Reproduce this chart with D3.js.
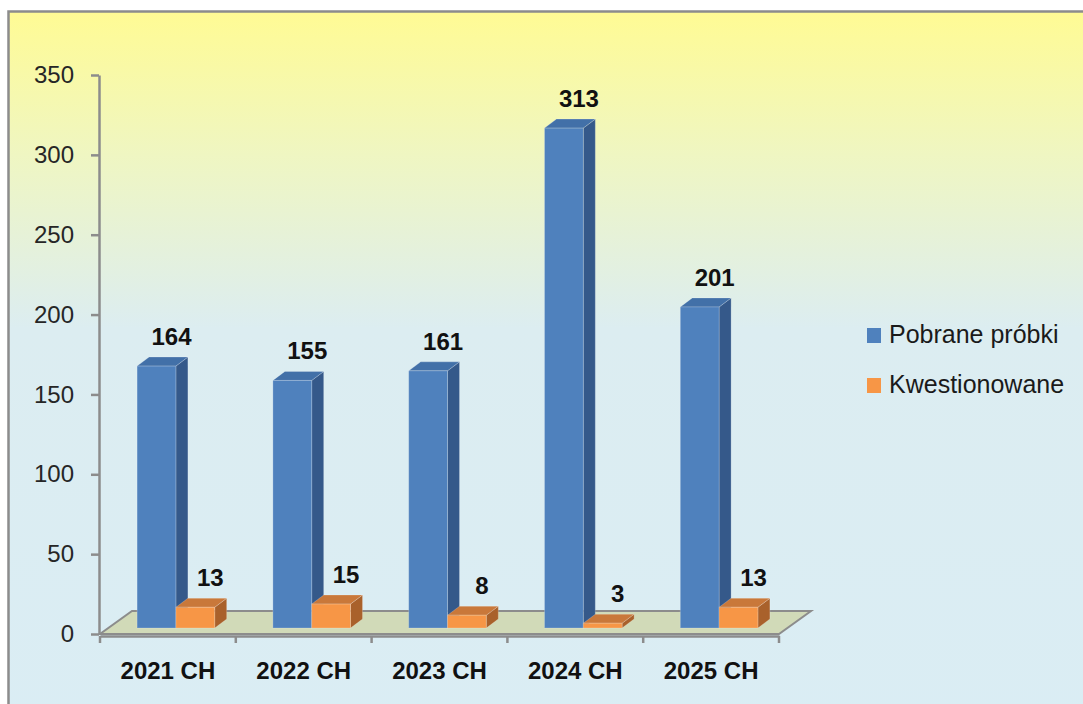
<!DOCTYPE html>
<html>
<head>
<meta charset="utf-8">
<script src="https://cdn.jsdelivr.net/npm/d3@7"></script>
<style>
  html, body { margin: 0; padding: 0; background: #fff; }
  svg { display: block; font-family: "Liberation Sans", Arial, sans-serif; }
</style>
</head>
<body>
<svg id="chart" width="1083" height="704"></svg>
<script>
// chart data
const categories = ["2021 CH", "2022 CH", "2023 CH", "2024 CH", "2025 CH"];
const seriesNames = ["Pobrane próbki", "Kwestionowane"];
const pobrane = [164, 155, 161, 313, 201];
const kwestionowane = [13, 15, 8, 3, 13];
const yTicks = [0, 50, 100, 150, 200, 250, 300, 350];

const seriesColors = {
  "Pobrane próbki": { front: "#4f81bd", top: "#4270a8", side: "#35598a" },
  "Kwestionowane": { front: "#f79646", top: "#c9783a", side: "#a9612b" }
};

const svg = d3.select("#chart");

// background gradient + frame
const defs = svg.append("defs");
const grad = defs.append("linearGradient")
  .attr("id", "bg").attr("x1", 0).attr("y1", 0).attr("x2", 0).attr("y2", 1);
grad.append("stop").attr("offset", "0%").attr("stop-color", "#fffb94");
grad.append("stop").attr("offset", "20%").attr("stop-color", "#eff6c2");
grad.append("stop").attr("offset", "44%").attr("stop-color", "#dcedf1");
grad.append("stop").attr("offset", "100%").attr("stop-color", "#daedf4");

svg.append("rect")
  .attr("x", 8.5).attr("y", 11.5)
  .attr("width", 1100).attr("height", 720)
  .attr("fill", "url(#bg)")
  .attr("stroke", "#8c8c8c").attr("stroke-width", 2.5);

// scales
const x = d3.scaleBand().domain(categories).range([100, 779]);
const sub = d3.scaleBand().domain(seriesNames).range([0, x.bandwidth()]).paddingOuter(0.75);
const y = d3.scaleLinear().domain([0, 350]).range([634, 75]);

// 3d offsets
const floorDepth = { dx: 32, dy: -23 };
const barShift = { dx: 8, dy: -6 };
const barDepth = { dx: 12, dy: -9 };

// floor
const [fx0, fx1] = x.range();
const fy = y(0);
svg.append("polygon")
  .attr("points", [
    [fx0, fy], [fx1, fy],
    [fx1 + floorDepth.dx, fy + floorDepth.dy],
    [fx0 + floorDepth.dx, fy + floorDepth.dy]
  ].map(p => p.join(",")).join(" "))
  .attr("fill", "#d1dab8")
  .attr("stroke", "#8c8c8c").attr("stroke-width", 2);

// bars
const rows = categories.map((c, i) => ({ cat: c, values: [pobrane[i], kwestionowane[i]] }));
const barsG = svg.append("g");

rows.forEach(r => {
  r.values.forEach((v, j) => {
    const name = seriesNames[j];
    const col = seriesColors[name];
    const x0 = x(r.cat) + sub(name) + barShift.dx;
    const x1 = x0 + sub.bandwidth();
    const yb = y(0) + barShift.dy;
    const yt = y(v) + barShift.dy;
    const dx = barDepth.dx, dy = barDepth.dy;
    const g = barsG.append("g");
    const pts = a => a.map(p => p.join(",")).join(" ");
    // side
    g.append("polygon")
      .attr("points", pts([[x1, yb], [x1 + dx, yb + dy], [x1 + dx, yt + dy], [x1, yt]]))
      .attr("fill", col.side)
      .attr("stroke", "rgba(255,255,255,0.2)").attr("stroke-width", 1);
    // top
    g.append("polygon")
      .attr("points", pts([[x0, yt], [x0 + dx, yt + dy], [x1 + dx, yt + dy], [x1, yt]]))
      .attr("fill", col.top)
      .attr("stroke", "rgba(255,255,255,0.2)").attr("stroke-width", 1);
    // front
    g.append("rect")
      .attr("x", x0).attr("y", yt)
      .attr("width", x1 - x0).attr("height", yb - yt)
      .attr("fill", col.front)
      .attr("stroke", "rgba(255,255,255,0.2)").attr("stroke-width", 1);
    // value label
    svg.append("text")
      .attr("x", (x0 + x1) / 2 + dx / 2 + 9)
      .attr("y", yt + dy - 12)
      .attr("text-anchor", "middle")
      .attr("font-size", 24).attr("font-weight", "bold")
      .attr("fill", "#111")
      .text(v);
  });
});

// y axis
const yAxis = svg.append("g")
  .attr("transform", "translate(99,0)")
  .call(d3.axisLeft(y).tickValues(yTicks).tickSize(8).tickSizeOuter(0).tickPadding(17));
yAxis.select(".domain").attr("stroke", "#8c8c8c").attr("stroke-width", 2.5);
yAxis.selectAll(".tick line").attr("stroke", "#8c8c8c").attr("stroke-width", 2.5);
yAxis.selectAll(".tick text")
  .attr("font-size", 24).attr("font-family", "Liberation Sans, Arial, sans-serif")
  .attr("fill", "#262626");

// x axis
const xAxis = svg.append("g")
  .attr("transform", "translate(0,636)")
  .call(d3.axisBottom(x).tickSize(0).tickSizeOuter(0).tickPadding(26));
xAxis.select(".domain").attr("stroke", "#8c8c8c").attr("stroke-width", 2.5);
xAxis.selectAll(".tick text")
  .attr("font-size", 24).attr("font-weight", "bold")
  .attr("font-family", "Liberation Sans, Arial, sans-serif")
  .attr("fill", "#111");
const bounds = categories.map(c => x(c)).concat([x.range()[1]]);
xAxis.selectAll(".bound")
  .data(bounds).enter().append("line")
  .attr("x1", d => d).attr("x2", d => d)
  .attr("y1", 0).attr("y2", 7)
  .attr("stroke", "#8c8c8c").attr("stroke-width", 2.5);

// legend
const legend = svg.append("g").attr("transform", "translate(867,328)");
seriesNames.forEach((name, i) => {
  const g = legend.append("g").attr("transform", `translate(0,${i * 50})`);
  g.append("rect").attr("width", 14).attr("height", 15)
    .attr("fill", seriesColors[name].front);
  g.append("text").attr("x", 22).attr("y", 15)
    .attr("font-size", 25).attr("fill", "#1a1a1a")
    .text(name);
});
</script>
</body>
</html>
